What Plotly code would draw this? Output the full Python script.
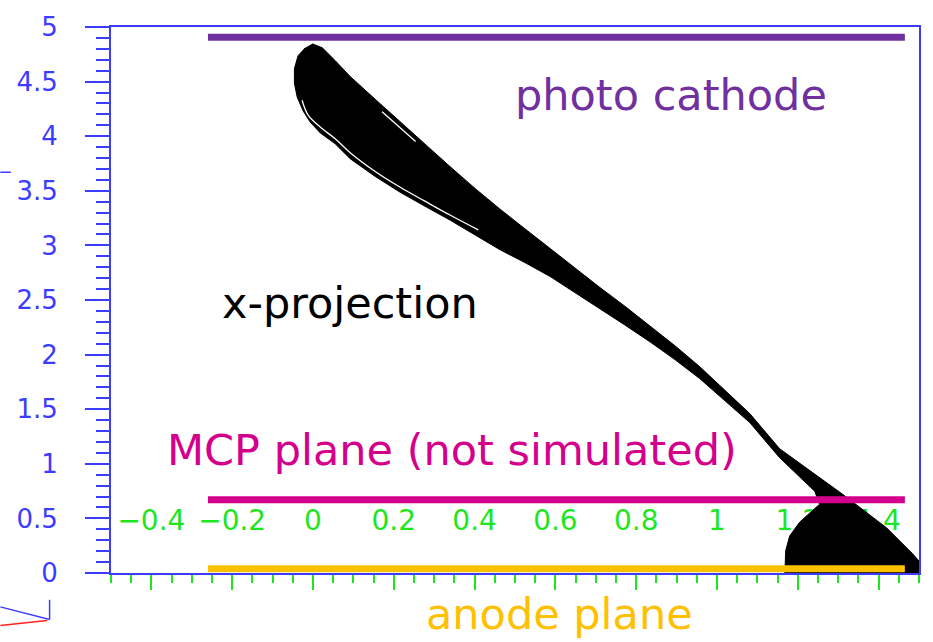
import plotly.graph_objects as go

# ---------------- data ----------------
# x-axis tick labels (drawn inside the frame, ROOT style)
x_tick_vals = [-0.4, -0.2, 0, 0.2, 0.4, 0.6, 0.8, 1.0, 1.2, 1.4]
x_tick_text = ["\u22120.4", "\u22120.2", "0", "0.2", "0.4", "0.6", "0.8", "1", "1.2", "1.4"]
x_label_y = 0.46

# y-axis ticks
y_tick_vals = [0, 0.5, 1, 1.5, 2, 2.5, 3, 3.5, 4, 4.5, 5]
y_tick_text = ["0", "0.5", "1", "1.5", "2", "2.5", "3", "3.5", "4", "4.5", "5"]

# outline of the electron trajectory envelope (x-projection)
traj_x = [-0.002, 0.023, 0.055, 0.092, 0.154, 0.216, 0.277, 0.339, 0.401, 0.463,
          0.525, 0.587, 0.648, 0.710, 0.772, 0.834, 0.896, 0.957, 1.019, 1.081,
          1.155, 1.229, 1.311, 1.420, 1.484, 1.526,
          1.168, 1.170, 1.180, 1.205, 1.234, 1.254,
          1.242, 1.192, 1.155, 1.081, 1.019, 0.957, 0.896, 0.834, 0.772, 0.710,
          0.648, 0.587, 0.525, 0.463, 0.401, 0.339, 0.277, 0.216, 0.154, 0.092,
          0.055, 0.018, -0.007, -0.024, -0.039, -0.046, -0.046, -0.037, -0.019]
traj_y = [4.846, 4.810, 4.692, 4.547, 4.338, 4.130, 3.921, 3.722, 3.522, 3.332,
          3.151, 2.969, 2.792, 2.615, 2.443, 2.262, 2.081, 1.890, 1.673, 1.460,
          1.138, 0.938, 0.721, 0.413, 0.177, 0.0,
          0.0, 0.204, 0.340, 0.467, 0.567, 0.630,
          0.748, 0.929, 1.056, 1.378, 1.582, 1.781, 1.954, 2.117, 2.271, 2.421,
          2.570, 2.715, 2.842, 2.960, 3.096, 3.232, 3.359, 3.486, 3.631, 3.794,
          3.930, 4.030, 4.130, 4.229, 4.356, 4.483, 4.619, 4.737, 4.810]

# thin white gaps inside the envelope (separate trajectory bundles)
gap_x = [-0.027, -0.012, 0.018, 0.055, 0.092, 0.154, 0.216, 0.277, 0.339, 0.409,
         None, 0.171, 0.254]
gap_y = [4.329, 4.193, 4.084, 3.976, 3.849, 3.677, 3.532, 3.405, 3.278, 3.142,
         None, 4.223, 3.951]

# detector planes
plane_x = [-0.26, 1.465]
cathode_y = 4.905
mcp_y = 0.67
anode_y = 0.04

# text labels (data coordinates)
labels = ["photo cathode", "x-projection", "MCP plane (not simulated)", "anode plane"]
label_x = [0.886, 0.092, 0.345, 0.609]
label_y = [4.375, 2.47, 1.125, -0.38]

# ---------------- style ----------------
BLUE = "#3c3cff"
GREEN = "#1ee61e"
PURPLE = "#7030a0"
MAGENTA = "#d4008c"
ORANGE = "#ffc000"
RED = "#ff2020"
FONT = "DejaVu Sans"
label_colors = [PURPLE, "black", MAGENTA, ORANGE]
X_RANGE = [-0.5, 1.5]
Y_RANGE = [0, 5]

fig = go.Figure()

# green x tick labels inside the frame
fig.add_trace(go.Scatter(
    x=x_tick_vals, y=[x_label_y] * len(x_tick_vals), text=x_tick_text,
    mode="text", textposition="middle center",
    textfont=dict(family=FONT, size=28, color=GREEN),
    hoverinfo="skip", showlegend=False))

# trajectory envelope
fig.add_trace(go.Scatter(
    x=traj_x, y=traj_y, mode="lines", fill="toself",
    fillcolor="black", line=dict(color="black", width=1),
    hoverinfo="skip", showlegend=False))
fig.add_trace(go.Scatter(
    x=gap_x, y=gap_y, mode="lines",
    line=dict(color="white", width=1.3, shape="spline"),
    hoverinfo="skip", showlegend=False))

# planes
for yv, col in [(cathode_y, PURPLE), (mcp_y, MAGENTA), (anode_y, ORANGE)]:
    fig.add_trace(go.Scatter(
        x=plane_x, y=[yv, yv], mode="lines",
        line=dict(color=col, width=7),
        hoverinfo="skip", showlegend=False))

# labels (paper coordinates derived from data values so off-range labels remain visible)
for t, xx, yy, c in zip(labels, label_x, label_y, label_colors):
    fig.add_annotation(
        x=(xx - X_RANGE[0]) / (X_RANGE[1] - X_RANGE[0]),
        y=(yy - Y_RANGE[0]) / (Y_RANGE[1] - Y_RANGE[0]),
        xref="paper", yref="paper", text=t, showarrow=False,
        xanchor="center", yanchor="middle",
        font=dict(family=FONT, size=43, color=c))

# small fragments of a neighbouring 3D frame at the left edge
frag = [(-0.137, 0.734, -0.124, 0.734, BLUE),
        (-0.137, -0.062, -0.076, -0.085, BLUE),
        (-0.076, -0.049, -0.076, -0.085, BLUE),
        (-0.137, -0.096, -0.079, -0.087, RED)]
for x0, y0, x1, y1, c in frag:
    fig.add_shape(type="line", xref="paper", yref="paper", x0=x0, y0=y0, x1=x1, y1=y1,
                  line=dict(color=c, width=1.5))

fig.update_layout(
    width=933, height=642,
    margin=dict(l=111, r=14, t=21, b=69),
    paper_bgcolor="white", plot_bgcolor="white",
    showlegend=False,
    xaxis=dict(range=X_RANGE, showgrid=False, zeroline=False,
               showline=True, linecolor=BLUE, linewidth=2, mirror=True,
               ticks="outside", tickcolor=GREEN, ticklen=15, tickwidth=2,
               tickmode="linear", tick0=0, dtick=0.2, showticklabels=False,
               minor=dict(ticks="outside", dtick=0.05, tick0=0, ticklen=8,
                          tickcolor=GREEN, tickwidth=2)),
    yaxis=dict(range=Y_RANGE, showgrid=False, zeroline=False,
               showline=True, linecolor=BLUE, linewidth=2, mirror=True,
               ticks="outside", tickcolor=BLUE, ticklen=24, tickwidth=2,
               tickmode="array", tickvals=y_tick_vals, ticktext=y_tick_text,
               tickfont=dict(family=FONT, size=26, color=BLUE),
               ticklabelstandoff=22,
               minor=dict(ticks="outside", dtick=0.1, tick0=0, ticklen=13,
                          tickcolor=BLUE, tickwidth=2)),
)

fig.write_html("out.html")
